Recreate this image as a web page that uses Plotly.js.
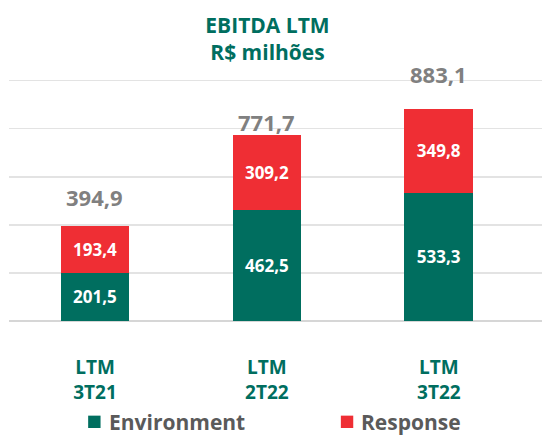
<!DOCTYPE html>
<html>
<head>
<meta charset="utf-8">
<script src="https://cdn.plot.ly/plotly-3.0.1.min.js"></script>
<style>html,body{margin:0;padding:0;background:#fff;}#chart{width:542px;height:435px;}</style>
</head>
<body>
<div id="chart"></div>
<script>
const categories = ["LTM<br>3T21", "LTM<br>2T22", "LTM<br>3T22"];
const environment = [201.5, 462.5, 533.3];
const response = [193.4, 309.2, 349.8];
const totals = [394.9, 771.7, 883.1];
const seriesNames = ["Environment", "Response"];
const totalOffsets = [29, 13, 35];

const GREEN = "#006e5f";
const RED = "#ef2e34";
const COLORS = [GREEN, RED];
const FONT = "Open Sans, sans-serif";
const fmt = v => v.toFixed(1).replace(".", ",");

const traces = [environment, response].map((vals, k) => ({
  type: "bar", name: seriesNames[k], x: categories, y: vals,
  marker: {color: COLORS[k]},
  text: vals.map(fmt), textposition: "inside", insidetextanchor: "middle",
  textfont: {family: FONT, size: 17, color: "#ffffff", weight: 700},
  constraintext: "none", hoverinfo: "skip"
}));

const annotations = categories.map((c, i) => ({
  x: c, y: totals[i], xref: "x", yref: "y",
  text: fmt(totals[i]), showarrow: false, yanchor: "middle", yshift: totalOffsets[i],
  font: {family: FONT, size: 22, color: "#808080", weight: 700}
}));

// plot area spans x 9..542, y 76.6..321 (range 0..1015)
const PH = 244.4, PW = 533;
const legendX = [0.1485, 0.6226];
const legendY = -(422 - 321) / PH;
const shapes = [];
seriesNames.forEach((n, k) => {
  shapes.push({
    type: "rect", xref: "paper", yref: "paper",
    x0: legendX[k], x1: legendX[k] + 12.4 / PW,
    y0: legendY - 6.2 / PH, y1: legendY + 6.2 / PH,
    fillcolor: COLORS[k], line: {width: 0}
  });
  annotations.push({
    xref: "paper", yref: "paper", x: legendX[k] + 18.5 / PW, y: legendY,
    xanchor: "left", yanchor: "middle", showarrow: false, text: n,
    font: {family: FONT, size: 21, color: "#5a5a5a", weight: 700}
  });
});

const layout = {
  width: 542, height: 435,
  margin: {l: 9, r: 0, t: 76.6, b: 114, autoexpand: false},
  paper_bgcolor: "#ffffff", plot_bgcolor: "#ffffff",
  barmode: "stack", bargap: 0.6,
  showlegend: false,
  title: {
    text: "EBITDA LTM<br>R$ milhões",
    x: 0.485, xref: "paper", xanchor: "center",
    y: 0.925, yref: "container", yanchor: "middle",
    font: {family: FONT, size: 21, color: GREEN, weight: 700}
  },
  xaxis: {
    type: "category", range: [-0.5, 2.6], automargin: false,
    showgrid: false, showline: false, ticks: "", ticklabelstandoff: 33,
    tickfont: {family: FONT, size: 19, color: GREEN, weight: 700},
    fixedrange: true
  },
  yaxis: {
    range: [0, 1015], tickvals: [0, 200, 400, 600, 800, 1000], showticklabels: false,
    automargin: false,
    showgrid: true, gridcolor: "#e3e3e3", gridwidth: 1.5,
    zeroline: true, zerolinecolor: "#d6d6d6", zerolinewidth: 2.5,
    fixedrange: true
  },
  shapes: shapes,
  annotations: annotations
};

Plotly.newPlot("chart", traces, layout, {displayModeBar: false, staticPlot: true});
</script>
</body>
</html>
